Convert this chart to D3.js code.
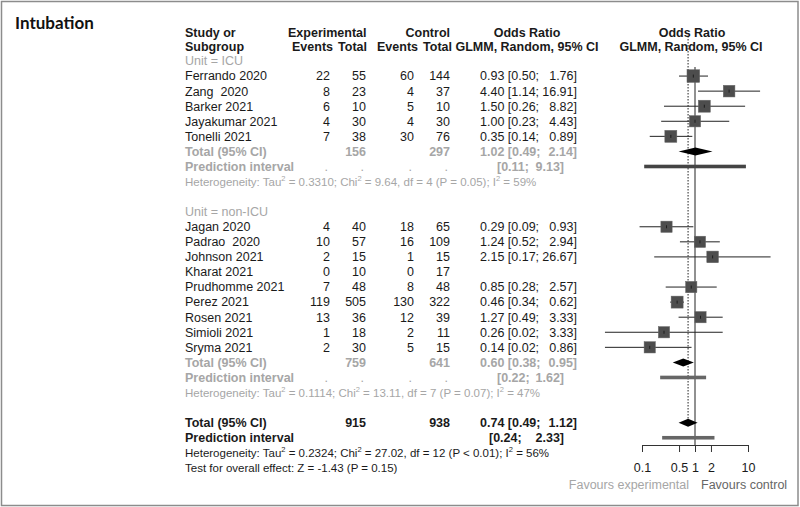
<!DOCTYPE html>
<html>
<head>
<meta charset="utf-8">
<script src="https://cdn.jsdelivr.net/npm/d3@7"></script>
<style>
  body { margin: 0; background: #fff; }
  text { font-family: "Liberation Sans", Arial, sans-serif; white-space: pre; }
</style>
</head>
<body>
<div id="chart"></div>
<script>
// ------------------------------------------------------------
// Data
// ------------------------------------------------------------
const icuStudies   = ["Ferrando 2020", "Zang  2020", "Barker 2021", "Jayakumar 2021", "Tonelli 2021"];
const icuExpEvents = [22, 8, 6, 4, 7];
const icuExpTotal  = [55, 23, 10, 30, 38];
const icuCtlEvents = [60, 4, 5, 4, 30];
const icuCtlTotal  = [144, 37, 10, 30, 76];
const icuOR        = [0.93, 4.40, 1.50, 1.00, 0.35];
const icuLower     = [0.50, 1.14, 0.26, 0.23, 0.14];
const icuUpper     = [1.76, 16.91, 8.82, 4.43, 0.89];
const icuWeight    = [9.5, 8.0, 8.5, 7.5, 8.5];

const nonStudies   = ["Jagan 2020", "Padrao  2020", "Johnson 2021", "Kharat 2021", "Prudhomme 2021",
                      "Perez 2021", "Rosen 2021", "Simioli 2021", "Sryma 2021"];
const nonExpEvents = [4, 10, 2, 0, 7, 119, 13, 1, 2];
const nonExpTotal  = [40, 57, 15, 10, 48, 505, 36, 18, 30];
const nonCtlEvents = [18, 16, 1, 0, 8, 130, 12, 2, 5];
const nonCtlTotal  = [65, 109, 15, 17, 48, 322, 39, 11, 15];
const nonOR        = [0.29, 1.24, 2.15, null, 0.85, 0.46, 1.27, 0.26, 0.14];
const nonLower     = [0.09, 0.52, 0.17, null, 0.28, 0.34, 0.49, 0.02, 0.02];
const nonUpper     = [0.93, 2.94, 26.67, null, 2.57, 0.62, 3.33, 3.33, 0.86];
const nonWeight    = [7.5, 7.5, 8.0, 0, 7.5, 8.5, 7.5, 7.5, 7.5];

// subgroup / overall summaries: or = [estimate, lower, upper]
const icuTotal   = { exp: 156, ctl: 297, or: [1.02, 0.49, 2.14], pi: [0.11, 9.13],
                     het: ["0.3310", "9.64", "4", "P = 0.05", "59%"] };
const nonTotal   = { exp: 759, ctl: 641, or: [0.60, 0.38, 0.95], pi: [0.22, 1.62],
                     het: ["0.1114", "13.11", "7", "P = 0.07", "47%"] };
const allTotal   = { exp: 915, ctl: 938, or: [0.74, 0.49, 1.12], pi: [0.24, 2.33],
                     het: ["0.2324", "27.02", "12", "P < 0.01", "56%"] };
const overallTest = "Test for overall effect: Z = -1.43 (P = 0.15)";

const axisTicks = [0.1, 0.5, 1, 2, 10];

// ------------------------------------------------------------
// Layout
// ------------------------------------------------------------
const width = 800, height = 507;
const black = "#1a1a1a", grey = "#a6a6a6", fs = 12.5;

const svg = d3.select("#chart").append("svg")
    .attr("width", width).attr("height", height);

svg.append("rect")
    .attr("x", 1.5).attr("y", 1.5)
    .attr("width", width - 3.5).attr("height", height - 3)
    .attr("fill", "#fff").attr("stroke", "#8c8c8c").attr("stroke-width", 1.5);

// row index -> y
const y = d3.scaleLinear().domain([0, 1]).range([61, 76.07]);
// odds ratio -> x (log)
const x = d3.scaleLog().domain([0.1, 10]).range([642, 748]);
const w = d3.scaleSqrt().domain([0, 10]).range([0, 13]);

const col = { label: 185, expE: 330, expT: 366, ctlE: 414, ctlT: 450, orL: 480, orR: 577, piL: 497, piR: 564 };
const f2 = d3.format(".2f");

function txt(xp, yp, s, o = {}) {
    return svg.append("text")
        .attr("x", xp).attr("y", yp)
        .attr("dy", "0.35em")
        .attr("text-anchor", o.anchor || "start")
        .attr("font-size", o.size || fs)
        .attr("font-weight", o.bold ? "bold" : "normal")
        .attr("fill", o.color || black)
        .text(s);
}

// title
svg.append("text")
    .attr("x", 15).attr("y", 23).attr("dy", "0.35em")
    .attr("font-size", 17).attr("font-weight", "bold")
    .attr("fill", "#111")
    .style("font-family", "Lato, 'Open Sans', sans-serif")
    .text("Intubation");

// headers
const h1 = 32.5, h2 = 46.5;
txt(col.label, h1, "Study or", { bold: true });
txt(col.label, h2, "Subgroup", { bold: true });
txt(288, h1, "Experimental", { bold: true });
txt(col.expE + 3, h2, "Events", { bold: true, anchor: "end" });
txt(col.expT + 1, h2, "Total", { bold: true, anchor: "end" });
txt(col.ctlT, h1, "Control", { bold: true, anchor: "end" });
txt(col.ctlE + 4, h2, "Events", { bold: true, anchor: "end" });
txt(col.ctlT + 2, h2, "Total", { bold: true, anchor: "end" });
txt(527, h1, "Odds Ratio", { bold: true, anchor: "middle" });
txt(527, h2, "GLMM, Random, 95% CI", { bold: true, anchor: "middle" });
txt(692, h1, "Odds Ratio", { bold: true, anchor: "middle" });
txt(691, h2, "GLMM, Random, 95% CI", { bold: true, anchor: "middle" });

// reference lines (drawn first, under the marks)
svg.append("line")
    .attr("x1", x(allTotal.or[0])).attr("x2", x(allTotal.or[0]))
    .attr("y1", 36).attr("y2", y(24) - 4)
    .attr("stroke", "#222").attr("stroke-width", 1).attr("stroke-dasharray", "1.5,1.5");
svg.append("line")
    .attr("x1", x(1)).attr("x2", x(1))
    .attr("y1", 67).attr("y2", 445)
    .attr("stroke", "#222").attr("stroke-width", 1);

function diamond(row, est, lo, hi) {
    const yc = y(row), hh = 4;
    svg.append("path")
        .attr("d", `M${x(lo)},${yc} L${x(est)},${yc - hh} L${x(hi)},${yc} L${x(est)},${yc + hh} Z`)
        .attr("fill", "#000");
}

function piBar(row, lo, hi, fill) {
    svg.append("rect")
        .attr("x", x(lo)).attr("y", y(row) - 1.8)
        .attr("width", x(hi) - x(lo)).attr("height", 3.6)
        .attr("fill", fill);
}

function group(startRow, title, names, eE, eT, cE, cT, or, lo, hi, wt, tot, piFill) {
    txt(col.label, y(startRow), title, { color: grey });
    names.forEach((n, i) => {
        const r = startRow + 1 + i, yc = y(r);
        txt(col.label, yc, n);
        txt(col.expE, yc, eE[i], { anchor: "end" });
        txt(col.expT, yc, eT[i], { anchor: "end" });
        txt(col.ctlE, yc, cE[i], { anchor: "end" });
        txt(col.ctlT, yc, cT[i], { anchor: "end" });
        if (or[i] == null) return;
        txt(col.orL, yc, `${f2(or[i])} [${f2(lo[i])};`);
        txt(col.orR, yc, `${f2(hi[i])}]`, { anchor: "end" });
        svg.append("line")
            .attr("x1", x(lo[i])).attr("x2", x(hi[i]))
            .attr("y1", yc).attr("y2", yc)
            .attr("stroke", "#222").attr("stroke-width", 1);
        const s = w(wt[i]);
        svg.append("rect")
            .attr("x", x(or[i]) - s / 2).attr("y", yc - s / 2)
            .attr("width", s).attr("height", s)
            .attr("fill", "#4d4d4d").attr("stroke", "#666").attr("stroke-width", 0.5);
        svg.append("line")
            .attr("x1", x(or[i])).attr("x2", x(or[i]))
            .attr("y1", yc - 1.5).attr("y2", yc + 1.5)
            .attr("stroke", "#111").attr("stroke-width", 0.8);
    });
    const tr = startRow + 1 + names.length;
    txt(col.label, y(tr), "Total (95% CI)", { bold: true, color: grey });
    txt(col.expT, y(tr), tot.exp, { bold: true, color: grey, anchor: "end" });
    txt(col.ctlT, y(tr), tot.ctl, { bold: true, color: grey, anchor: "end" });
    txt(col.orL, y(tr), `${f2(tot.or[0])} [${f2(tot.or[1])};`, { bold: true, color: grey });
    txt(col.orR, y(tr), `${f2(tot.or[2])}]`, { bold: true, color: grey, anchor: "end" });
    diamond(tr, ...tot.or);

    txt(col.label, y(tr + 1), "Prediction interval", { bold: true, color: grey });
    [col.expE - 2, col.expT - 2, col.ctlE - 2, col.ctlT - 2].forEach(cx =>
        txt(cx, y(tr + 1), ".", { color: grey, anchor: "end" }));
    txt(col.piL, y(tr + 1), `[${f2(tot.pi[0])};`, { bold: true, color: grey });
    txt(col.piR, y(tr + 1), `${f2(tot.pi[1])}]`, { bold: true, color: grey, anchor: "end" });
    piBar(tr + 1, tot.pi[0], tot.pi[1], piFill);

    hetText(y(tr + 2), tot.het, grey);
}

// heterogeneity line with superscript 2s (absolute px shifts so nothing drifts)
function hetText(yc, h, color) {
    const t = svg.append("text")
        .attr("x", col.label).attr("y", yc + 4)
        .attr("font-size", 11.5).attr("fill", color);
    const parts = [`Heterogeneity: Tau`, `2`, ` = ${h[0]}; Chi`, `2`, ` = ${h[1]}, df = ${h[2]} (${h[3]}); I`, `2`, ` = ${h[4]}`];
    parts.forEach((p, i) => {
        const sup = i % 2 === 1;
        t.append("tspan")
            .attr("dy", sup ? -4.5 : (i === 0 ? 0 : 4.5))
            .attr("font-size", sup ? 7.5 : 11.5)
            .text(p);
    });
}

group(0, "Unit = ICU", icuStudies, icuExpEvents, icuExpTotal, icuCtlEvents, icuCtlTotal,
      icuOR, icuLower, icuUpper, icuWeight, icuTotal, "#444");
group(10, "Unit = non-ICU", nonStudies, nonExpEvents, nonExpTotal, nonCtlEvents, nonCtlTotal,
      nonOR, nonLower, nonUpper, nonWeight, nonTotal, "#666");

// overall
txt(col.label, y(24), "Total (95% CI)", { bold: true });
txt(col.expT, y(24), allTotal.exp, { bold: true, anchor: "end" });
txt(col.ctlT, y(24), allTotal.ctl, { bold: true, anchor: "end" });
txt(col.orL, y(24), `${f2(allTotal.or[0])} [${f2(allTotal.or[1])};`, { bold: true });
txt(col.orR, y(24), `${f2(allTotal.or[2])}]`, { bold: true, anchor: "end" });
diamond(24, ...allTotal.or);
txt(col.label, y(25), "Prediction interval", { bold: true });
txt(col.piL - 8, y(25), `[${f2(allTotal.pi[0])};`, { bold: true });
txt(col.piR, y(25), `${f2(allTotal.pi[1])}]`, { bold: true, anchor: "end" });
piBar(25, allTotal.pi[0], allTotal.pi[1], "#666");
hetText(y(26), allTotal.het, black);
txt(col.label, y(27), overallTest, { size: 11.5 });

// axis
const axis = svg.append("g")
    .attr("transform", "translate(0,445)")
    .call(d3.axisBottom(x).tickValues(axisTicks).tickFormat(d3.format("")).tickSize(7).tickSizeOuter(0).tickPadding(11));
axis.select(".domain").attr("stroke", "#333");
axis.selectAll(".tick line").attr("stroke", "#333");
axis.selectAll(".tick text")
    .attr("font-size", fs).attr("fill", black)
    .style("font-family", "'Liberation Sans', Arial, sans-serif");

txt(689, 485, "Favours experimental", { anchor: "end", color: grey });
txt(701, 485, "Favours control", { color: "#666" });
</script>
</body>
</html>
